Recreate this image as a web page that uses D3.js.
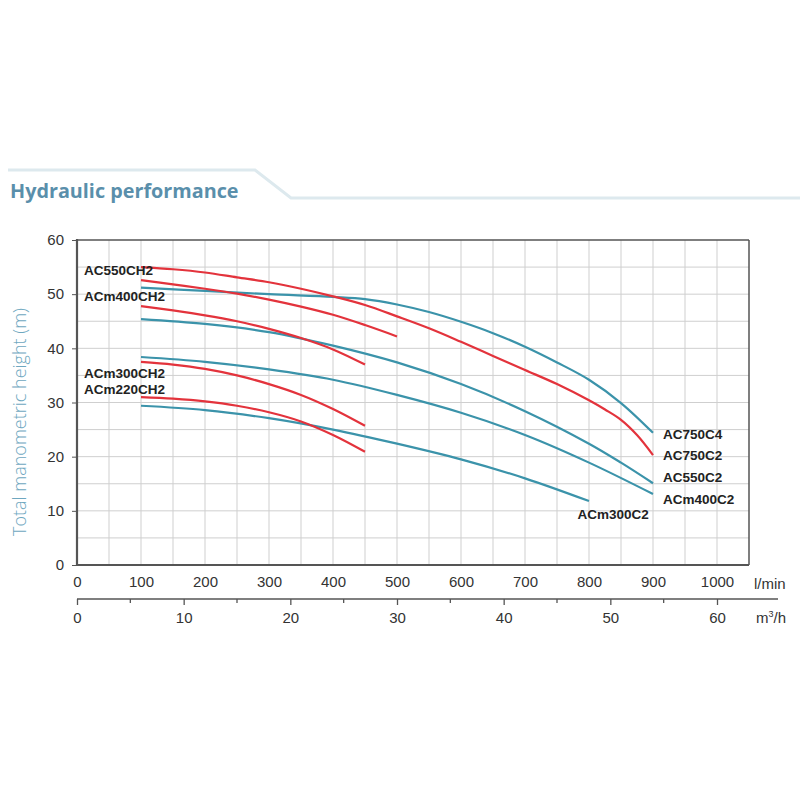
<!DOCTYPE html>
<html><head><meta charset="utf-8">
<script src="https://cdn.jsdelivr.net/npm/d3@7"></script>
<style>body{margin:0;background:#fff}</style>
</head><body>
<svg id="c" width="800" height="800"></svg>
<script>
// ---- data (flow in l/min, head in m) ----
const yTicks = [0,10,20,30,40,50,60];
const xTicksLmin = [0,100,200,300,400,500,600,700,800,900,1000];
const xTicksM3h = [0,10,20,30,40,50,60];

const flowAC750C4 = [100,200,300,400,450,500,550,600,650,700,750,800,850,900];
const headAC750C4 = [51.2,50.6,50.0,49.5,49.1,48.1,46.7,44.9,42.8,40.3,37.4,34.2,29.9,24.4];
const flowAC550C2 = [100,200,300,400,500,600,700,800,850,900];
const headAC550C2 = [45.4,44.5,43.0,40.5,37.4,33.4,28.4,22.4,18.9,15.1];
const flowACm400C2 = [100,200,300,400,500,600,700,800,900];
const headACm400C2 = [38.4,37.5,36.1,34.2,31.4,28.1,24.0,18.9,13.1];
const flowACm300C2 = [100,200,300,400,500,600,700,800];
const headACm300C2 = [29.4,28.6,27.1,25.0,22.4,19.5,16.0,11.8];

const flowAC750C2 = [100,150,200,250,300,350,400,450,500,550,600,650,700,750,800,825,850,875,900];
const headAC750C2 = [55.0,54.6,54.0,53.1,52.2,51.0,49.6,48.0,45.9,43.7,41.2,38.6,36.0,33.4,30.4,28.7,26.8,24.0,20.3];
const flowAC550CH2 = [100,150,200,250,300,350,400,450,500];
const headAC550CH2 = [52.6,51.8,51.0,50.1,49.0,47.7,46.2,44.3,42.2];
const flowACm400CH2 = [100,150,200,250,300,350,400,450];
const headACm400CH2 = [47.8,47.0,46.1,45.0,43.6,41.9,39.8,37.0];
const flowACm300CH2 = [100,150,200,250,300,350,400,450];
const headACm300CH2 = [37.5,37.0,36.2,35.0,33.4,31.4,28.8,25.7];
const flowACm220CH2 = [100,150,200,250,300,350,400,450];
const headACm220CH2 = [31.0,30.7,30.2,29.4,28.2,26.5,24.0,20.9];

const tealSeries = [[flowAC750C4,headAC750C4],[flowAC550C2,headAC550C2],[flowACm400C2,headACm400C2],[flowACm300C2,headACm300C2]];
const redSeries = [[flowAC750C2,headAC750C2],[flowAC550CH2,headAC550CH2],[flowACm400CH2,headACm400CH2],[flowACm300CH2,headACm300CH2],[flowACm220CH2,headACm220CH2]];

const labelNames = ["AC550CH2","ACm400CH2","ACm300CH2","ACm220CH2","AC750C4","AC750C2","AC550C2","ACm400C2","ACm300C2"];
const labelFlow = [11,11,11,11,915.6,915.6,915.6,915.6,782];
const labelHead = [53.45,48.65,34.5,31.55,23.26,19.3,15.3,11.35,8.5];

// ---- drawing ----
const svg = d3.select("#c");
const TEAL = "#3b93aa", RED = "#e3333c", AX = "#555";
const x = d3.scaleLinear().domain([0,1050]).range([77,749]);
const y = d3.scaleLinear().domain([0,60]).range([565,240]);
const xm = d3.scaleLinear().domain([0,60]).range([77,717]);
const FONT = "'Liberation Sans', Arial, sans-serif";

svg.append("rect").attr("width",800).attr("height",800).attr("fill","#fff");

// header decoration
svg.append("path")
  .attr("d", d3.line()([[8,170],[255,170],[291,198],[800,198]]))
  .attr("fill","none").attr("stroke","#dde9ee").attr("stroke-width",3);
svg.append("text").attr("x",10).attr("y",198)
  .attr("font-family","'Open Sans', sans-serif").attr("font-weight",700)
  .attr("font-size",19.8).attr("fill","#5a8fab").text("Hydraulic performance");

// grid
const g = svg.append("g");
g.selectAll("line.v").data(d3.range(50,1050,50)).join("line")
  .attr("x1",d=>x(d)).attr("x2",d=>x(d)).attr("y1",y(0)).attr("y2",y(60))
  .attr("stroke","#cfcfcf").attr("stroke-width",1);
g.selectAll("line.h").data(d3.range(5,60,5)).join("line")
  .attr("x1",x(0)).attr("x2",x(1050)).attr("y1",d=>y(d)).attr("y2",d=>y(d))
  .attr("stroke","#cfcfcf").attr("stroke-width",1);

// frame
svg.append("line").attr("x1",x(0)).attr("x2",x(1050)).attr("y1",y(60)).attr("y2",y(60)).attr("stroke",AX).attr("stroke-width",1.5);
svg.append("line").attr("x1",x(1050)).attr("x2",x(1050)).attr("y1",y(60)).attr("y2",y(0)).attr("stroke",AX).attr("stroke-width",1.5);

// y axis
const ya = svg.append("g").attr("transform",`translate(${x(0)},0)`)
  .call(d3.axisLeft(y).tickValues(yTicks).tickSize(5).tickPadding(8));
ya.select(".domain").remove();
ya.selectAll("line").attr("stroke",AX);
ya.selectAll("text").attr("font-family",FONT).attr("font-size",15).attr("fill","#333");
svg.append("line").attr("x1",x(0)).attr("x2",x(0)).attr("y1",y(60)-1).attr("y2",y(0)+1).attr("stroke",AX).attr("stroke-width",2.2);

// x axis l/min
const xa = svg.append("g").attr("transform",`translate(0,${y(0)})`)
  .call(d3.axisBottom(x).tickValues(xTicksLmin).tickFormat(d3.format("d")).tickSize(0).tickPadding(11));
xa.select(".domain").remove();
xa.selectAll("text").attr("font-family",FONT).attr("font-size",15).attr("fill","#333");
svg.append("line").attr("x1",x(0)-1).attr("x2",x(1050)).attr("y1",y(0)).attr("y2",y(0)).attr("stroke",AX).attr("stroke-width",2.2);
svg.append("text").attr("x",754).attr("y",589).attr("font-family",FONT)
  .attr("font-size",15).attr("fill","#333").text("l/min");

// x axis m3/h
const ma = svg.append("g").attr("transform","translate(0,599)")
  .call(d3.axisBottom(xm).tickValues(xTicksM3h).tickFormat(d3.format("d")).tickSize(6).tickPadding(7));
ma.select(".domain").remove();
ma.selectAll("line").attr("stroke",AX).attr("stroke-width",1.3);
ma.selectAll("text").attr("font-family",FONT).attr("font-size",15).attr("fill","#333");
ma.selectAll("line.minor").data(d3.range(5,60,10)).join("line").attr("class","minor")
  .attr("x1",d=>xm(d)).attr("x2",d=>xm(d)).attr("y1",0).attr("y2",4).attr("stroke",AX).attr("stroke-width",1.3);
svg.append("line").attr("x1",xm(0)).attr("x2",778).attr("y1",599).attr("y2",599).attr("stroke",AX).attr("stroke-width",1.5);
const mu = svg.append("text").attr("x",756).attr("y",623).attr("font-family",FONT)
  .attr("font-size",15).attr("fill","#333");
mu.append("tspan").text("m");
mu.append("tspan").attr("dy",-6).attr("font-size",9).text("3");
mu.append("tspan").attr("dy",6).text("/h");

// y title
svg.append("text").attr("transform","translate(26,422) rotate(-90)").attr("text-anchor","middle")
  .attr("font-family","'Open Sans', sans-serif").attr("font-weight",300).attr("font-size",18)
  .attr("fill","#6ea7c0").text("Total manometric height (m)");

// curves
const line = d3.line().x(d=>x(d[0])).y(d=>y(d[1])).curve(d3.curveCatmullRom.alpha(0.5));
const toPts = s => s[0].map((f,i)=>[f,s[1][i]]);
svg.append("g").selectAll("path").data(tealSeries).join("path")
  .attr("d",s=>line(toPts(s))).attr("fill","none").attr("stroke",TEAL).attr("stroke-width",2.2);
svg.append("g").selectAll("path").data(redSeries).join("path")
  .attr("d",s=>line(toPts(s))).attr("fill","none").attr("stroke",RED).attr("stroke-width",2.2);

// labels
svg.append("g").selectAll("text").data(labelNames).join("text")
  .attr("x",(d,i)=>x(labelFlow[i])).attr("y",(d,i)=>y(labelHead[i]))
  .attr("font-family",FONT).attr("font-weight",700).attr("font-size",13.5)
  .attr("fill","#222").text(d=>d);
</script>
</body></html>
